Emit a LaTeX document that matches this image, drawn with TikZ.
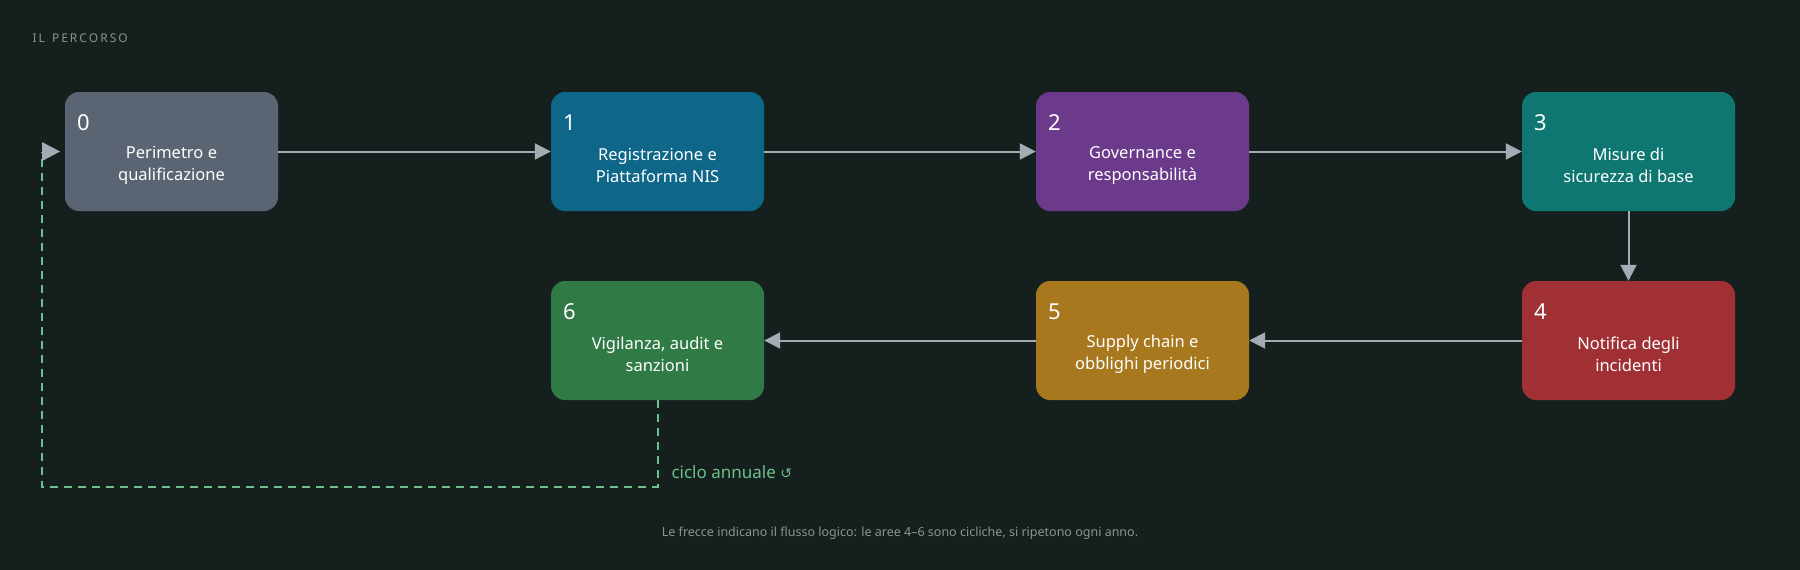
\documentclass[tikz,border=0pt]{standalone}
\usepackage{fontspec}
\setmainfont{Noto Sans}
\newfontfamily\symf{DejaVu Sans}
\usetikzlibrary{arrows.meta}
\definecolor{bg}{HTML}{15201E}
\definecolor{c0}{HTML}{5A6472}
\definecolor{c1}{HTML}{0E6688}
\definecolor{c2}{HTML}{6B3A8B}
\definecolor{c3}{HTML}{0F7772}
\definecolor{c4}{HTML}{A03034}
\definecolor{c5}{HTML}{A8781E}
\definecolor{c6}{HTML}{2F7A45}
\definecolor{arr}{HTML}{A3ACB4}
\definecolor{loopgreen}{HTML}{6CC08A}
\definecolor{muted}{HTML}{8A9490}
\begin{document}
\begin{tikzpicture}[x=1pt,y=-1pt,
  box/.style={rounded corners=14pt,minimum width=213pt,minimum height=119pt,inner sep=0pt},
  num/.style={text=white,font=\fontsize{22}{24}\selectfont\bfseries,anchor=west},
  lbl/.style={text=white,font=\fontsize{16.5}{22}\selectfont,align=center},
  flow/.style={draw=arr,line width=2pt,-{Triangle[length=16pt,width=16pt]}}]
\fill[bg] (0,0) rectangle (1800,570);
\useasboundingbox (0,0) rectangle (1800,570);
\node[anchor=west,text=muted,font=\fontsize{12}{14}\selectfont\bfseries] (title) at (29,38) {I\,L\,\, P\,E\,R\,C\,O\,R\,S\,O};
\foreach \n/\x/\y/\c/\t in {0/171.5/151.5/c0/{Perimetro e\\qualificazione},
 1/657.5/151.5/c1/{Registrazione e\\Piattaforma NIS},
 2/1142.5/151.5/c2/{Governance e\\responsabilità},
 3/1628.5/151.5/c3/{Misure di\\sicurezza di base},
 4/1628.5/340.5/c4/{Notifica degli\\incidenti},
 5/1142.5/340.5/c5/{Supply chain e\\obblighi periodici},
 6/657.5/340.5/c6/{Vigilanza, audit e\\sanzioni}}{
  \node[box,fill=\c] (b\n) at (\x,\y) {};
  \node[num] (n\n) at (\x-98,\y-29) {\n};
  \node[lbl] (l\n) at (\x,\y+14) {\t};
}
\draw[flow] (b0) -- (b1);
\draw[flow] (b1) -- (b2);
\draw[flow] (b2) -- (b3);
\draw[flow] (b3) -- (b4);
\draw[flow] (b4) -- (b5);
\draw[flow] (b5) -- (b6);
\coordinate (d1) at (657.5,487);
\coordinate (d2) at (42,487);
\coordinate (d3) at (42,151.5);
\draw[loopgreen,line width=2pt,dash pattern=on 8pt off 6pt] (b6.south) -- (d1) -- (d2) -- (d3);
\fill[arr] (42,142) -- (60,151.5) -- (42,161) -- cycle;
\node[anchor=west,text=loopgreen,font=\fontsize{17}{20}\selectfont] (cyc) at (668,472) {ciclo annuale {\symf\fontsize{14}{16}\selectfont ↺}};
\node[text=muted,font=\fontsize{12.5}{14}\selectfont] (foot) at (900,533) {Le frecce indicano il flusso logico: le aree 4–6 sono cicliche, si ripetono ogni anno.};
\end{tikzpicture}
\end{document}
